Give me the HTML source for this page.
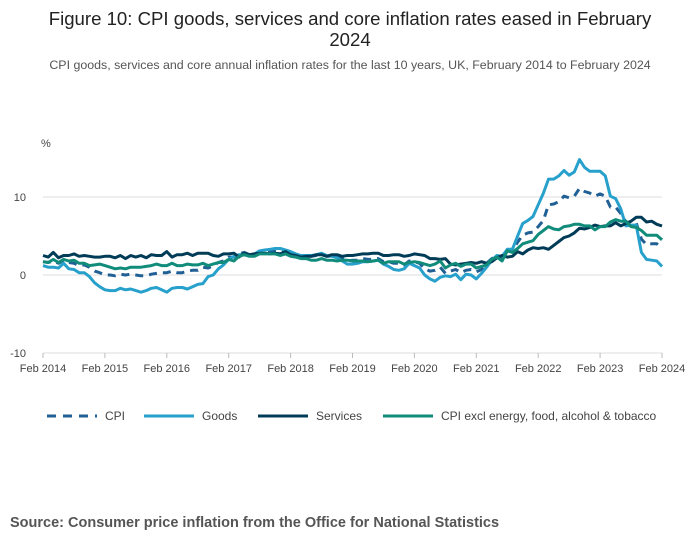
<!DOCTYPE html>
<html><head><meta charset="utf-8"><style>
body{margin:0;background:#fff;font-family:"Liberation Sans",sans-serif;}
#wrap{position:relative;width:700px;height:549px;}
</style></head><body>
<div id="wrap">
<svg id="chart" width="700" height="549">
<text x="350" y="25" text-anchor="middle" font-size="18.6" fill="#222">Figure 10: CPI goods, services and core inflation rates eased in February</text>
<text x="350" y="46" text-anchor="middle" font-size="18.6" fill="#222">2024</text>
<text x="350" y="69" text-anchor="middle" font-size="12.4" fill="#555">CPI goods, services and core annual inflation rates for the last 10 years, UK, February 2014 to February 2024</text>
<text x="41" y="147" font-size="11" fill="#444">%</text>
<g id="grid"></g><g id="xaxis"></g><g id="series"></g><g id="legend"></g>
<text x="10" y="527" font-size="14.5" font-weight="bold" fill="#555">Source: Consumer price inflation from the Office for National Statistics</text>
</svg></div>
<script>
const yTicks=[10,0,-10];
const xTickLabels=["Feb 2014","Feb 2015","Feb 2016","Feb 2017","Feb 2018","Feb 2019","Feb 2020","Feb 2021","Feb 2022","Feb 2023","Feb 2024"];
const cpi=[1.7,1.6,1.8,1.5,1.9,1.6,1.5,1.2,1.3,1.0,0.5,
0.3,0.0,0.0,-0.1,0.1,0.0,0.1,0.0,-0.1,-0.1,0.1,0.2,
0.3,0.3,0.5,0.3,0.3,0.5,0.6,0.6,1.0,0.9,1.2,1.6,
1.8,2.3,2.3,2.7,2.9,2.6,2.6,2.9,3.0,3.0,3.1,3.0,
3.0,2.7,2.5,2.4,2.4,2.4,2.5,2.7,2.4,2.4,2.3,2.1,
1.8,1.9,1.9,2.1,2.0,2.0,2.1,1.7,1.7,1.5,1.5,1.3,
1.8,1.7,1.5,0.8,0.5,0.6,1.0,0.2,0.5,0.7,0.3,0.6,
0.7,0.4,0.7,1.5,2.1,2.5,2.0,3.2,3.1,4.2,5.1,5.4,
5.5,6.2,7.0,9.0,9.1,9.4,10.1,9.9,10.1,11.1,10.7,10.5,
10.1,10.4,10.1,8.7,8.7,7.9,6.8,6.7,6.7,4.6,3.9,4.0,
4.0,3.4];
const goods=[1.2,1.0,1.0,0.9,1.5,0.8,0.7,0.3,0.3,-0.2,-1.0,
-1.5,-1.9,-2.0,-2.0,-1.7,-1.9,-1.8,-2.0,-2.2,-2.0,-1.7,-1.6,
-1.9,-2.2,-1.7,-1.6,-1.6,-1.8,-1.5,-1.2,-1.1,-0.2,0.0,0.8,
1.3,2.0,2.4,2.6,2.6,2.6,2.7,3.1,3.2,3.3,3.4,3.4,
3.2,3.0,2.7,2.5,2.5,2.5,2.6,2.8,2.5,2.4,2.2,1.8,
1.4,1.4,1.5,1.7,1.7,1.8,1.9,1.4,1.1,0.7,0.6,0.8,
1.5,1.2,0.9,0.0,-0.5,-0.8,-0.3,-0.1,-0.2,0.1,-0.6,0.1,
0.0,-0.5,0.2,1.0,1.9,2.5,2.4,3.3,3.3,5.0,6.6,7.0,
7.5,9.0,10.5,12.3,12.3,12.7,13.4,12.8,13.2,14.8,13.8,13.3,
13.3,13.3,12.7,10.1,9.8,8.5,6.3,6.4,6.4,2.9,2.0,1.9,
1.8,1.1];
const services=[2.5,2.3,2.9,2.2,2.5,2.5,2.7,2.4,2.5,2.4,2.3,
2.3,2.4,2.4,2.2,2.5,2.1,2.5,2.3,2.5,2.2,2.6,2.5,
2.5,3.0,2.3,2.6,2.6,2.8,2.5,2.8,2.8,2.8,2.5,2.4,
2.7,2.7,2.8,2.3,2.8,2.6,2.7,2.8,2.8,2.7,2.8,2.7,
3.0,2.6,2.5,2.3,2.4,2.4,2.6,2.6,2.4,2.6,2.6,2.4,
2.5,2.5,2.6,2.7,2.7,2.8,2.8,2.5,2.5,2.6,2.6,2.4,
2.5,2.7,2.6,2.5,2.1,2.1,2.0,2.1,1.4,1.3,1.4,1.5,
1.6,1.5,1.7,1.5,1.7,2.2,2.5,2.3,2.4,3.0,2.7,3.2,
3.5,3.4,3.5,3.3,3.8,4.3,4.8,5.0,5.4,6.0,5.9,6.1,
6.4,6.2,6.3,6.3,6.7,6.3,6.6,6.9,7.4,7.4,6.8,6.9,
6.5,6.3];
const core=[1.7,1.6,2.0,1.6,2.0,1.8,1.9,1.5,1.5,1.2,1.3,
1.4,1.2,1.0,0.8,0.9,0.8,1.0,1.0,1.0,1.1,1.2,1.4,
1.2,1.2,1.5,1.2,1.2,1.4,1.3,1.3,1.5,1.2,1.4,1.6,
1.6,2.0,1.8,2.4,2.6,2.4,2.4,2.7,2.7,2.7,2.7,2.5,
2.7,2.4,2.3,2.1,2.1,1.9,1.9,2.1,1.9,1.9,1.8,1.9,
1.9,1.8,1.8,1.8,1.7,1.8,1.9,1.5,1.7,1.7,1.7,1.4,
1.6,1.7,1.6,1.4,1.2,1.4,1.8,0.9,1.3,1.5,1.1,1.4,
1.4,0.9,1.1,1.3,2.0,2.3,1.8,3.1,2.9,3.4,4.0,4.2,
4.4,5.2,5.7,6.2,5.9,5.8,6.2,6.3,6.5,6.5,6.3,6.3,
5.8,6.2,6.2,6.8,7.1,6.9,6.9,6.2,6.1,5.7,5.1,5.1,
5.1,4.5];
const seriesNames=["CPI","Goods","Services","CPI excl energy, food, alcohol & tobacco"];
const NS="http://www.w3.org/2000/svg";
const X0=43,X1=662,Y0=275,PPU=7.8;
function xs(i){return X0+(X1-X0)*i/(cpi.length-1);}
function ys(v){return Y0-v*PPU;}
function mk(t,a,p){const e=document.createElementNS(NS,t);for(const k in a)e.setAttribute(k,a[k]);p.appendChild(e);return e;}
const grid=document.getElementById('grid');
yTicks.forEach(v=>{
 const l=mk('line',{x1:X0,x2:X1,y1:ys(v),y2:ys(v),stroke:'#ddd','stroke-width':1},grid);
 
 
 const t=mk('text',{x:X0-17,y:ys(v)+4,'font-size':11,fill:'#444','text-anchor':'end'},grid);
 t.textContent=v;
 
 
});
const xa=document.getElementById('xaxis');
xTickLabels.forEach((s,k)=>{
 const x=xs(k*12);
 const l=mk('line',{x1:x,x2:x,y1:ys(-10),y2:ys(-10)+5,stroke:'#bbb'},xa);
 
 
 const t=mk('text',{x:x,y:372,'font-size':11,fill:'#444','text-anchor':'middle'},xa);
 t.textContent=s;
 
 
});
const styles=[
 {d:cpi,c:'#206095',dash:'8,6',n:'cpi-line'},
 {d:goods,c:'#27a0cc',dash:'',n:'goods-line'},
 {d:services,c:'#003c57',dash:'',n:'services-line'},
 {d:core,c:'#118c7b',dash:'',n:'core-line'}];
const sg=document.getElementById('series');
styles.forEach(s=>{
 const p=mk('path',{d:s.d.map((v,i)=>(i?'L':'M')+xs(i).toFixed(1)+','+ys(v).toFixed(1)).join(''),fill:'none',stroke:s.c,'stroke-width':3,'stroke-dasharray':s.dash,'stroke-linejoin':'round'},sg);
 
 
});
const lg=document.getElementById('legend');
const lx=[47,144,258,383];
styles.forEach((s,k)=>{
 const g=mk('g',{},lg);
 
 
 mk('line',{x1:lx[k],x2:lx[k]+50,y1:416,y2:416,stroke:s.c,'stroke-width':3,'stroke-dasharray':s.dash?'9,7':''},g);
 const t=mk('text',{x:lx[k]+58,y:420,'font-size':12,fill:'#444'},g);
 t.textContent=seriesNames[k];
});
</script>
</body></html>
